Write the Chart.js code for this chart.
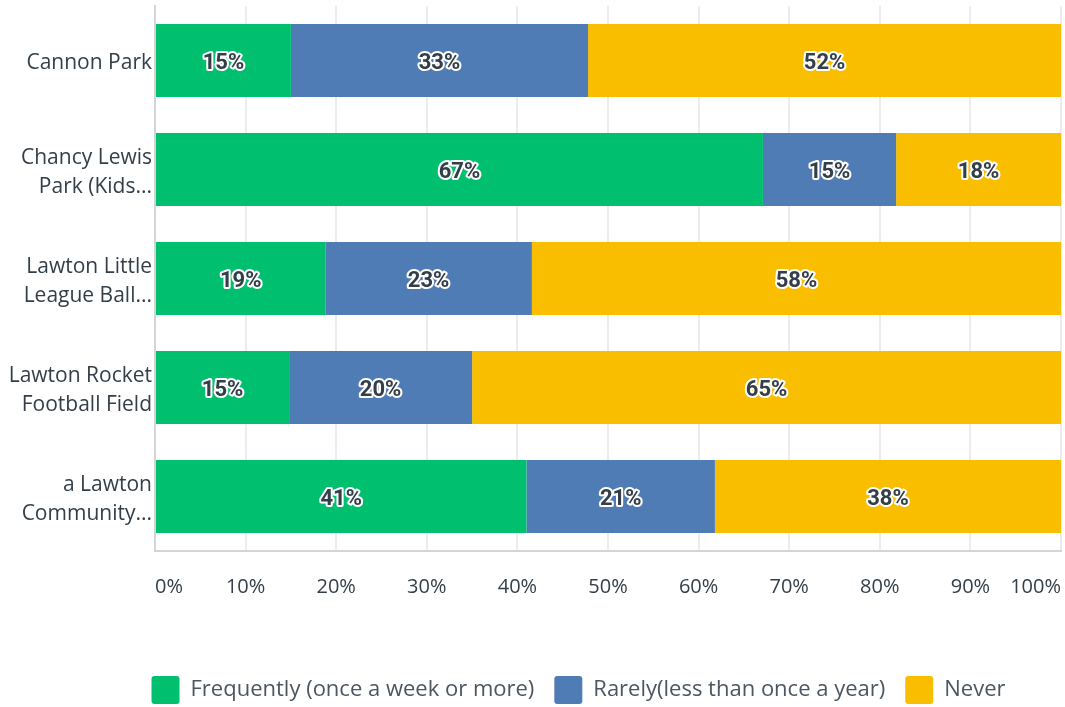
<!DOCTYPE html>
<html>
<head>
<meta charset="utf-8">
<script src="https://cdn.jsdelivr.net/npm/chart.js@4/dist/chart.umd.min.js"></script>
<style>
  html, body { margin: 0; padding: 0; background: #fff; }
  .chart { width: 1065px; height: 707px; }
</style>
</head>
<body>
<div class="chart">
  <canvas id="chartbox"></canvas>
</div>
<script>
// data
const places = [
  ['Cannon Park'],
  ['Chancy Lewis', 'Park (Kids...'],
  ['Lawton Little', 'League Ball...'],
  ['Lawton Rocket', 'Football Field'],
  ['a Lawton', 'Community...']
]
const seriesNames = ['Frequently (once a week or more)', 'Rarely(less than once a year)', 'Never']
const frequently = [15.0, 67.1, 18.8, 14.8, 41.0]
const rarely = [32.8, 14.7, 22.8, 20.2, 20.8]
const never = [52.2, 18.2, 58.4, 65.0, 38.2]
const xTicks = [0, 10, 20, 30, 40, 50, 60, 70, 80, 90, 100]

const textColor = '#333e48'
const font = "'Open Sans', sans-serif"

// draws the % label in the middle of every bar piece, white outline + dark fill
const barLabels = {
  id: 'barLabels',
  afterDatasetsDraw(chart) {
    const ctx = chart.ctx
    ctx.save()
    ctx.font = "bold 22px Roboto, sans-serif"
    ctx.textAlign = 'center'
    ctx.textBaseline = 'middle'
    ctx.lineJoin = 'round'
    chart.data.datasets.forEach((ds, i) => {
      const meta = chart.getDatasetMeta(i)
      meta.data.forEach((bar, j) => {
        const txt = Math.round(ds.data[j]) + '%'
        const cx = (bar.x + bar.base) / 2
        ctx.lineWidth = 4
        ctx.strokeStyle = '#fff'
        ctx.strokeText(txt, cx, bar.y + 2.5)
        ctx.fillStyle = textColor
        ctx.fillText(txt, cx, bar.y + 2.5)
      })
    })
    ctx.restore()
  }
}

// nudge the legend down and to the right like in the original
const legendShift = {
  id: 'legendShift',
  afterLayout(chart) {
    chart.legend.top += 7
    chart.legend.bottom += 7
    chart.legend.left += 48
    chart.legend.right += 48
  }
}

const noPad = (axis) => {
  axis.paddingTop = 0
  axis.paddingBottom = 0
  axis.paddingLeft = 0
  axis.paddingRight = 0
}

new Chart(document.querySelector('#chartbox'), {
  type: 'bar',
  data: {
    labels: places,
    datasets: [
      { label: seriesNames[0], data: frequently, backgroundColor: '#00bf6f' },
      { label: seriesNames[1], data: rarely, backgroundColor: '#507cb6' },
      { label: seriesNames[2], data: never, backgroundColor: '#f9be00' }
    ]
  },
  options: {
    indexAxis: 'y',
    responsive: true,
    maintainAspectRatio: false,
    animation: false,
    categoryPercentage: 1,
    barPercentage: 0.67,
    layout: { padding: { top: 6, right: 4, left: 0, bottom: 0 } },
    scales: {
      x: {
        stacked: true,
        min: 0,
        max: 100,
        afterBuildTicks: (axis) => { axis.ticks = xTicks.map(v => ({ value: v })) },
        afterFit: (axis) => { axis.height = 98; noPad(axis) },
        grid: { color: '#ececec', lineWidth: 2, drawTicks: false },
        border: { color: '#d4d4d4', width: 2 },
        ticks: {
          color: textColor,
          font: { family: font, size: 20 },
          padding: 24,
          align: 'inner',
          maxRotation: 0,
          callback: (v) => v + '%'
        }
      },
      y: {
        stacked: true,
        afterFit: (axis) => { axis.width = 155; noPad(axis) },
        grid: { display: false, drawTicks: false },
        border: { color: '#d4d4d4', width: 2 },
        ticks: {
          color: textColor,
          font: { family: font, size: 21, lineHeight: 1.4 },
          padding: 3,
          labelOffset: 3
        }
      }
    },
    plugins: {
      legend: {
        position: 'bottom',
        labels: {
          color: '#4d5660',
          font: { family: font, size: 22 },
          boxWidth: 28,
          boxHeight: 28,
          padding: 20,
          useBorderRadius: true,
          borderRadius: 3
        }
      },
      tooltip: { enabled: false }
    }
  },
  plugins: [barLabels, legendShift]
})
</script>
</body>
</html>
